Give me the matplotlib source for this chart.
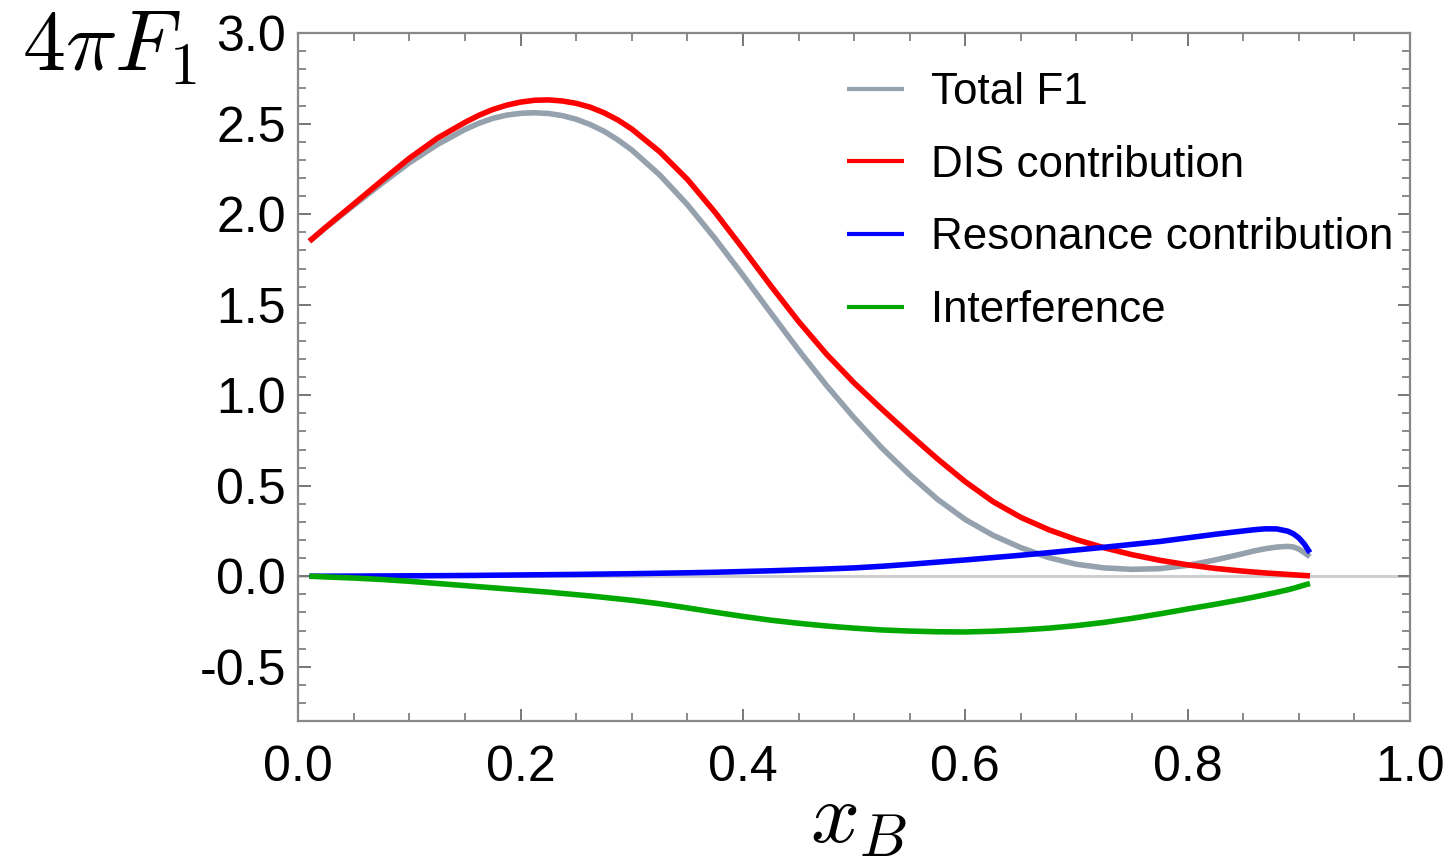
import matplotlib
matplotlib.use("Agg")
import matplotlib.pyplot as plt
from matplotlib.ticker import MultipleLocator, FormatStrFormatter

plt.rcParams['font.family'] = ['Liberation Sans', 'DejaVu Sans']
plt.rcParams['mathtext.fontset'] = 'cm'
plt.rcParams['axes.unicode_minus'] = False

x_b = [0.01, 0.025, 0.05, 0.075, 0.1, 0.125, 0.15, 0.1625, 0.175, 0.1875, 0.2, 0.2125,
       0.225, 0.2375, 0.25, 0.2625, 0.275, 0.2875, 0.3, 0.325, 0.35, 0.375, 0.4, 0.425,
       0.45, 0.475, 0.5, 0.525, 0.55, 0.575, 0.6, 0.625, 0.65, 0.675, 0.7, 0.725,
       0.75, 0.775, 0.8, 0.825, 0.85, 0.86, 0.87, 0.88, 0.89, 0.895, 0.9, 0.905, 0.91]

total_f1 = [1.851, 1.928, 2.05, 2.17, 2.285, 2.385, 2.469, 2.503, 2.530, 2.548, 2.558, 2.561,
            2.557, 2.545, 2.525, 2.496, 2.459, 2.411, 2.355, 2.218, 2.053, 1.865, 1.663, 1.455,
            1.25, 1.055, 0.875, 0.708, 0.56, 0.425, 0.313, 0.226, 0.158, 0.103, 0.066, 0.046,
            0.038, 0.042, 0.06, 0.09, 0.125, 0.14, 0.152, 0.161, 0.165, 0.162, 0.15, 0.13, 0.108]

dis = [1.851, 1.93, 2.057, 2.185, 2.31, 2.42, 2.508, 2.547, 2.579, 2.603, 2.62, 2.630,
       2.632, 2.626, 2.613, 2.592, 2.561, 2.521, 2.471, 2.346, 2.193, 2.010, 1.810, 1.605,
       1.408, 1.228, 1.068, 0.923, 0.783, 0.648, 0.522, 0.412, 0.325, 0.257, 0.202, 0.157,
       0.119, 0.088, 0.063, 0.043, 0.028, 0.023, 0.018, 0.014, 0.010, 0.008, 0.006, 0.004, 0.002]

resonance = [0.0, 0.0003, 0.0008, 0.0015, 0.0023, 0.003, 0.004, 0.0047, 0.0055, 0.0062, 0.007, 0.0078,
             0.0085, 0.0093, 0.010, 0.011, 0.012, 0.013, 0.014, 0.0165, 0.019, 0.022, 0.026, 0.030,
             0.035, 0.040, 0.046, 0.055, 0.066, 0.078, 0.09, 0.103, 0.116, 0.13, 0.145, 0.16,
             0.176, 0.192, 0.212, 0.232, 0.25, 0.257, 0.262, 0.2615, 0.249, 0.235, 0.212, 0.177, 0.13]

interference = [0.0, -0.004, -0.01, -0.018, -0.028, -0.04, -0.052, -0.058, -0.064, -0.07, -0.076, -0.082,
                -0.088, -0.095, -0.102, -0.109, -0.117, -0.125, -0.133, -0.152, -0.175, -0.199, -0.222, -0.243,
                -0.26, -0.275, -0.287, -0.297, -0.303, -0.307, -0.308, -0.304, -0.297, -0.287, -0.273, -0.255,
                -0.233, -0.208, -0.181, -0.155, -0.127, -0.115, -0.102, -0.089, -0.075, -0.067, -0.058, -0.049, -0.04]

labels = ["Total F1", "DIS contribution", "Resonance contribution", "Interference"]
colors = ["#95a1ad", "#ff0000", "#0000ff", "#00a800"]

W, H = 1451, 858
fig = plt.figure(figsize=(W / 100, H / 100), dpi=100)
ax = fig.add_axes([298.3 / W, 1 - 721 / H, (1410 - 298.3) / W, (721 - 33.3) / H])

ax.axhline(0, color="#cfcfcf", lw=2.2, zorder=1)
series = [total_f1, dis, resonance, interference]
for ys, c, lab in zip(series, colors, labels):
    ax.plot(x_b, ys, color=c, lw=4.0, label=lab, solid_capstyle='butt',
            solid_joinstyle='round', zorder=3)

ax.set_xlim(0, 1.0)
ax.set_ylim(-0.8, 3.0)
ax.xaxis.set_major_locator(MultipleLocator(0.2))
ax.xaxis.set_minor_locator(MultipleLocator(0.05))
ax.yaxis.set_major_locator(MultipleLocator(0.5))
ax.yaxis.set_minor_locator(MultipleLocator(0.1))
ax.xaxis.set_major_formatter(FormatStrFormatter('%.1f'))
ax.yaxis.set_major_formatter(FormatStrFormatter('%.1f'))

for s in ax.spines.values():
    s.set_color("#888888")
    s.set_linewidth(1.6)
ax.tick_params(which='both', direction='in', top=True, right=True, color="#777777",
               labelsize=36, labelcolor='black')
ax.tick_params(which='major', length=9, width=1.4)
ax.tick_params(which='minor', length=5.5, width=1.2)
ax.tick_params(axis='x', which='major', pad=17)
ax.tick_params(axis='y', which='major', pad=9)

leg = ax.legend(loc='upper left', bbox_to_anchor=(847 / W, 1 - 72 / H),
                bbox_transform=fig.transFigure, frameon=False, fontsize=31.7,
                handlelength=1.3, handletextpad=0.61, labelspacing=0.72,
                borderpad=0, borderaxespad=0)
for h in leg.get_lines():
    h.set_linewidth(3)

fig.text(22 / W, 1 - 70 / H, r"$4\pi F_1$", fontsize=62, ha='left', va='baseline')
fig.text(858 / W, 1 - 842 / H, r"$x_B$", fontsize=62, ha='center', va='baseline')

fig.savefig("out.png", dpi=100)
